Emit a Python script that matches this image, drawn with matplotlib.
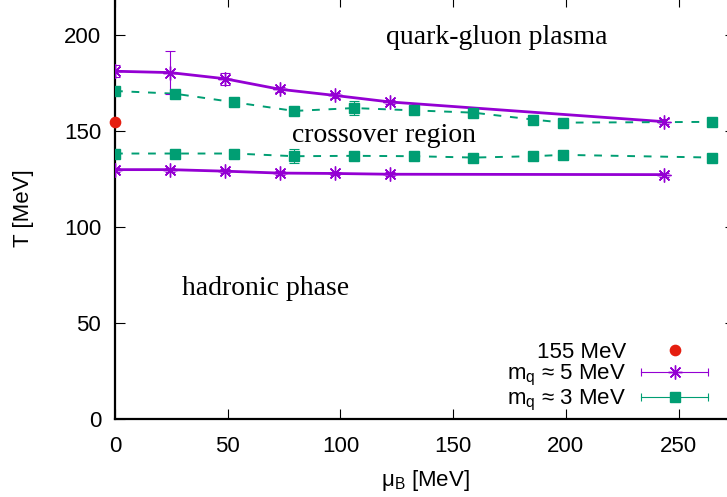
import matplotlib
matplotlib.use("Agg")
import matplotlib.pyplot as plt
from matplotlib.lines import Line2D
from matplotlib.legend_handler import HandlerBase

# ---- data ----
mu5 = [0, 24.4, 48.7, 73.1, 97.4, 121.8, 243.6]
T5_upper = [181.3, 180.6, 177.4, 171.9, 168.7, 165.3, 155.0]
T5_upper_err = [3.0, 11.3, 3.1, 1.2, 1.2, 1.2, 1.2]
T5_lower = [130.0, 130.0, 129.2, 128.2, 128.0, 127.6, 127.4]
T5_lower_err = [1.0, 1.0, 1.0, 1.0, 1.0, 1.0, 1.0]

mu3 = [0, 26.5, 53.0, 79.5, 106.0, 132.5, 159.0, 185.5, 198.8, 265.0]
T3_upper = [171.0, 169.6, 165.1, 160.6, 162.1, 160.9, 159.7, 156.1, 154.5, 154.9]
T3_upper_err = [1.2, 1.2, 1.2, 1.2, 3.6, 1.2, 1.2, 1.2, 1.2, 1.2]
T3_lower = [138.4, 138.4, 138.4, 137.0, 137.2, 137.0, 136.3, 137.0, 137.7, 136.3]
T3_lower_err = [1.0, 1.0, 1.0, 3.8, 1.0, 1.0, 1.0, 1.0, 1.0, 1.0]

ref_mu = [0]
ref_T = [155]

xticks = [0, 50, 100, 150, 200, 250]
yticks = [0, 50, 100, 150, 200]

PURPLE = "#9400d3"
GREEN = "#009e73"
RED = "#e51e10"

plt.rcParams["font.family"] = ["Liberation Sans", "DejaVu Sans"]
plt.rcParams["mathtext.default"] = "regular"

fig = plt.figure(figsize=(7.27, 4.97), dpi=100)
W, H = 727.0, 497.0
x0, x1 = 115.0, 735.0
y0, y1 = 419.0, -3.0
ax = fig.add_axes([x0 / W, 1 - y0 / H, (x1 - x0) / W, (y0 - y1) / H])
ax.set_xlim(0, 275)
ax.set_ylim(0, 220)
for s in ax.spines.values():
    s.set_linewidth(1.6)

star = (8, 2, 0)

def series(x, y, e, color, marker, ms, ls, lw, dashes=None):
    kw = dict(fmt="none", ecolor=color, elinewidth=0.8, capsize=3.6, capthick=0.8, zorder=3)
    ax.errorbar(x, y, yerr=e, **kw)
    line, = ax.plot(x, y, color=color, lw=lw, ls=ls, zorder=2)
    if dashes:
        line.set_dashes(dashes)
    ax.plot(x, y, ls="none", marker=marker, ms=ms, color=color,
            mec=color, mew=1.0, zorder=4)

series(mu5, T5_upper, T5_upper_err, PURPLE, star, 10, "-", 2.0)
series(mu5, T5_lower, T5_lower_err, PURPLE, star, 10, "-", 2.0)
series(mu3, T3_upper, T3_upper_err, GREEN, "s", 7.4, "--", 1.4, dashes=(4, 4.5))
series(mu3, T3_lower, T3_lower_err, GREEN, "s", 7.4, "--", 1.4, dashes=(4, 4.5))
ax.plot(ref_mu, ref_T, ls="none", marker="o", ms=7.4, color=RED, zorder=5, clip_on=False)

ax.set_xticks(xticks)
ax.set_yticks(yticks)
ax.tick_params(direction="in", length=7.2, width=0.8, top=True, right=True,
               labelsize=16)
ax.tick_params(axis="x", pad=12)
ax.tick_params(axis="y", pad=10)

ax.set_xlabel(r"$\mu_B$ [MeV]", fontsize=16, labelpad=8)
ax.set_ylabel("T [MeV]", fontsize=16, labelpad=21.5)

serif = ["Liberation Serif", "DejaVu Serif"]
ax.text(120, 199, "quark-gluon plasma", family=serif, fontsize=20, va="center", ha="left")
ax.text(78.5, 148, "crossover region", family=serif, fontsize=20, va="center", ha="left")
ax.text(29.5, 68, "hadronic phase", family=serif, fontsize=20, va="center", ha="left")


class ErrKeyHandler(HandlerBase):
    def create_artists(self, legend, orig_handle, xdescent, ydescent, width, height,
                       fontsize, trans):
        color, marker, ms, with_bar = orig_handle.color, orig_handle.marker, orig_handle.ms, orig_handle.bar
        y = height / 2 - ydescent
        arts = []
        if with_bar:
            ln = Line2D([-xdescent, width - xdescent], [y, y], color=color, lw=0.8, transform=trans)
            caps = Line2D([-xdescent, width - xdescent], [y, y], ls="none", marker="|",
                          ms=6, mew=0.8, color=color, transform=trans)
            arts += [ln, caps]
        mk = Line2D([width / 2 - xdescent], [y], ls="none", marker=marker, ms=ms,
                    color=color, mec=color, mew=1.0, transform=trans)
        arts.append(mk)
        return arts


class Key:
    def __init__(self, color, marker, ms, bar):
        self.color, self.marker, self.ms, self.bar = color, marker, ms, bar


keys = [Key(RED, "o", 7.4, False), Key(PURPLE, star, 10, True), Key(GREEN, "s", 7.4, True)]
labels = ["155 MeV", r"m$_q$ ≈ 5 MeV", r"m$_q$ ≈ 3 MeV"]
leg = ax.legend(keys, labels, handler_map={Key: ErrKeyHandler()}, loc="lower right",
                bbox_to_anchor=((708 - x0) / (x1 - x0), (y0 - 413) / (y0 - y1)),
                frameon=False, fontsize=16, markerfirst=False, handlelength=3.0,
                handletextpad=0.7, labelspacing=0.0, borderpad=0, borderaxespad=0)
for t in leg.get_texts():
    t.set_ha("right")

fig.savefig("out.png", dpi=100)
